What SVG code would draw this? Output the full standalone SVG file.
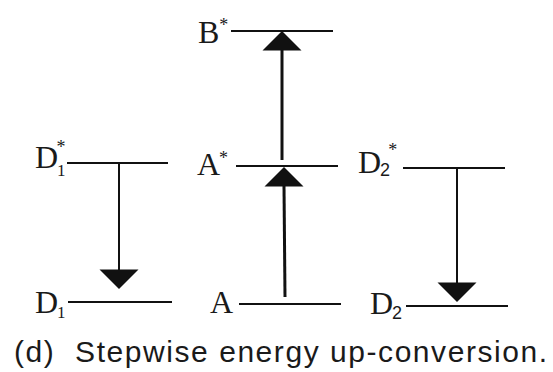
<svg xmlns="http://www.w3.org/2000/svg" width="553" height="372" viewBox="0 0 553 372">
<style>
  .lvl { stroke:#111; stroke-width:2; fill:none; }
  .lab { font-family:"Liberation Serif","Times New Roman",serif; font-size:32px; fill:#1a1a1a; }
  .sub { font-family:"Liberation Serif","Times New Roman",serif; font-size:17px; }
  .sub2 { font-family:"Liberation Sans",Arial,sans-serif; font-size:18px; }
  .star { font-size:18px; }
  .up { stroke:#111; stroke-width:3; fill:none; }
  .down { stroke:#111; stroke-width:2; fill:none; }
  .head { fill:#111; stroke:none; }
  .cap { font-family:"Liberation Sans",Arial,sans-serif; font-size:30px; fill:#1a1a1a; }
</style>
<defs>
  <path id="tri" class="head" d="M0,0 L-19.5,19.5 L19.5,19.5 Z"/>
</defs>
<rect width="553" height="372" fill="#ffffff"/>

<g id="node-Bstar">
  <text class="lab" x="198" y="43">B<tspan class="star" dx="0" dy="-12">*</tspan></text>
  <line class="lvl" x1="231" y1="31" x2="333" y2="31"/>
</g>
<g id="node-Astar">
  <text class="lab" x="197" y="175">A<tspan class="star" dx="-1" dy="-11">*</tspan></text>
  <line class="lvl" x1="236" y1="166" x2="338" y2="166"/>
</g>
<g id="node-D1star">
  <text class="lab" x="35" y="168">D<tspan class="sub" dx="-1" dy="8">1</tspan><tspan class="star" dx="-9" dy="-23">*</tspan></text>
  <line class="lvl" x1="67" y1="163" x2="168" y2="163"/>
</g>
<g id="node-D2star">
  <text class="lab" x="358" y="173">D<tspan class="sub2" dx="-1" dy="3">2</tspan><tspan class="star" dx="-2" dy="-20">*</tspan></text>
  <line class="lvl" x1="403" y1="168" x2="505" y2="168"/>
</g>
<g id="node-D1">
  <text class="lab" x="35" y="313">D<tspan class="sub" dx="-1" dy="5">1</tspan></text>
  <line class="lvl" x1="68" y1="302" x2="172" y2="302"/>
</g>
<g id="node-A">
  <text class="lab" x="210" y="313">A</text>
  <line class="lvl" x1="239" y1="304" x2="341" y2="304"/>
</g>
<g id="node-D2">
  <text class="lab" x="370" y="314">D<tspan class="sub2" dx="-1" dy="5">2</tspan></text>
  <line class="lvl" x1="406" y1="306" x2="508" y2="306"/>
</g>

<g id="connectors">
  <line class="up" x1="285" y1="297" x2="284" y2="186"/>
  <use href="#tri" transform="translate(284,167)"/>
  <line class="up" x1="282" y1="160" x2="282" y2="48"/>
  <use href="#tri" transform="translate(282,31)"/>
  <line class="down" x1="119" y1="163" x2="119" y2="271"/>
  <use href="#tri" transform="translate(119,289) rotate(180)"/>
  <line class="down" x1="457" y1="168" x2="457" y2="285"/>
  <use href="#tri" transform="translate(457,302) rotate(180)"/>
</g>

<text class="cap" x="14" y="362" xml:space="preserve" textLength="533" lengthAdjust="spacing">(d)  Stepwise energy up-conversion.</text>
</svg>
